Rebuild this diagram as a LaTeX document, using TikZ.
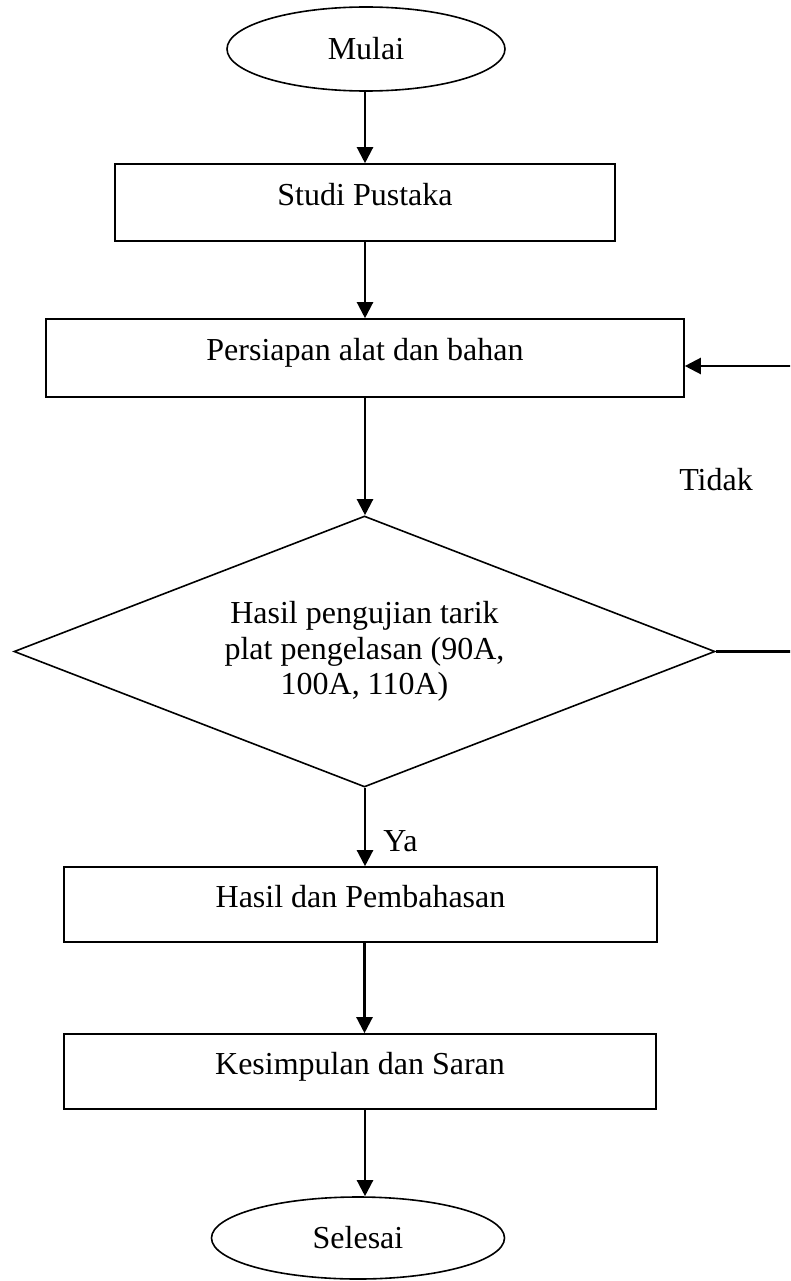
\documentclass[tikz,border=0pt]{standalone}
\usepackage{fontspec}
\setmainfont{Liberation Serif}
\usetikzlibrary{shapes.geometric,arrows.meta}
\begin{document}
\begin{tikzpicture}[x=0.75pt,y=-0.75pt,
  every node/.style={font=\fontsize{24}{26.5}\selectfont},
  box/.style={draw,line width=1.2pt,rectangle,inner sep=2pt,text height=18pt,text depth=14.25pt},
  term/.style={draw,line width=1.2pt,ellipse,inner sep=0pt},
  dec/.style={draw,line width=1.2pt,diamond,shape aspect=2.587,inner sep=0pt,align=center},
  lbl/.style={anchor=base,inner sep=0pt},
  arr/.style={line width=1.7pt,-{Triangle[width=12pt,length=12pt]}}]
\useasboundingbox (0,0) rectangle (790,1281);

\node[term,minimum width=208.5pt,minimum height=63pt] (mulai) at (366,49) {Mulai};
\node[box,minimum width=375pt,minimum height=57.75pt] (studi) at (365,202.5) {Studi Pustaka};
\node[box,minimum width=478.5pt,minimum height=58.5pt] (persiapan) at (365,358) {Persiapan alat dan bahan};
\node[dec,minimum width=525.75pt,minimum height=203.25pt] (dia) at (364.5,651.5)
  {Hasil pengujian tarik\\plat pengelasan (90A,\\100A, 110A)};
\node[box,minimum width=444.75pt,minimum height=56.25pt] (hasil) at (360.5,904.5) {Hasil dan Pembahasan};
\node[box,minimum width=444pt,minimum height=56.25pt] (kesimpulan) at (360,1071.5) {Kesimpulan dan Saran};
\node[term,minimum width=219.75pt,minimum height=61.5pt] (selesai) at (358,1238) {Selesai};

\node[lbl] (tidak) at (716,490) {Tidak};
\node[lbl] (ya) at (400.5,851) {Ya};

\draw[arr] (mulai.south -| studi.north) -- (studi.north);
\draw[arr] (studi.south) -- (persiapan.north);
\draw[arr] (persiapan.south) -- (persiapan.south |- dia.north);
\draw[arr] (dia.south -| hasil.north) ++(4.5,0) coordinate (dsa) -- (dsa |- hasil.north);
\draw[arr] (hasil.south) ++(4,0) coordinate (hsa) -- (hsa |- kesimpulan.north);
\draw[arr] (kesimpulan.south) ++(5,0) coordinate (ksa) -- (ksa |- selesai.north);

\begin{scope}
\clip (0,0) rectangle (790,1281);
\coordinate (lr) at (800,366);
\draw[arr] (dia.east) -- (dia.east -| lr) -- (lr) -- (persiapan.east |- lr);
\end{scope}
\end{tikzpicture}
\end{document}
